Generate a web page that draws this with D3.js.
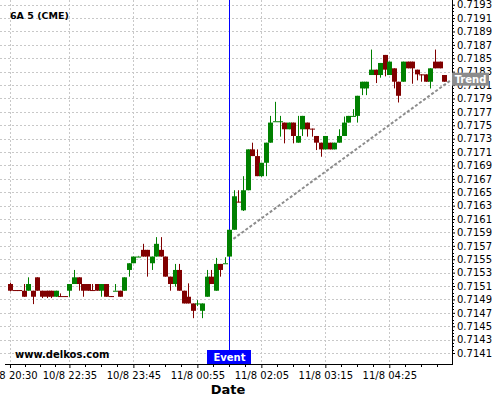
<!DOCTYPE html>
<html>
<head>
<meta charset="utf-8">
<script src="https://cdn.jsdelivr.net/npm/d3@7"></script>
<style>
  body { margin: 0; background: #fff; }
  svg { display: block; font-family: "DejaVu Sans", sans-serif; }
</style>
</head>
<body>
<script>

// Candle data (5 minute bars, index based x axis)
const openV = [
  0.71513,0.71504,0.71504,0.71503,0.71503,0.71503,0.71523,0.71503,0.71503,0.71503,
  0.71494,0.71495,0.71495,0.71503,0.71513,0.71523,0.71513,0.71513,0.71504,0.71513,
  0.71503,0.71513,0.71495,0.71503,0.71503,0.71503,0.71534,0.71544,0.71554,0.71564,
  0.71564,0.71544,0.71554,0.71564,0.71554,0.71524,0.71513,0.71534,0.71503,0.71494,
  0.71484,0.71484,0.71473,0.71494,0.71524,0.71503,0.71543,0.71544,0.71554,0.71594,
  0.71636,0.71623,0.71653,0.71714,0.71704,0.71674,0.71694,0.71724,0.71756,0.71756,
  0.71754,0.71744,0.71754,0.71724,0.71744,0.71754,0.71745,0.71734,0.71724,0.71714,
  0.71724,0.71714,0.71724,0.71734,0.71754,0.71764,0.71764,0.71805,0.71805,0.71825,
  0.71833,0.71825,0.71855,0.71825,0.71835,0.71815,0.71815,0.71845,0.71845,0.71833,
  0.71826,0.71826,0.71815,0.71845,0.71845,0.71825];
const highV = [
  0.71515,0.71504,0.71504,0.71513,0.71523,0.71503,0.71523,0.71503,0.71503,0.71503,
  0.71503,0.71499,0.71495,0.71513,0.71534,0.71523,0.71513,0.71513,0.71513,0.71513,
  0.71513,0.71513,0.71495,0.71513,0.71503,0.71523,0.71544,0.71554,0.71555,0.71573,
  0.71564,0.71554,0.71583,0.71583,0.71554,0.71524,0.71543,0.71543,0.71503,0.71514,
  0.71484,0.71489,0.71484,0.71534,0.71534,0.71552,0.71543,0.71553,0.71594,0.71653,
  0.71653,0.71674,0.71714,0.71724,0.71714,0.71694,0.71724,0.71764,0.71785,0.71764,
  0.71754,0.71754,0.71754,0.71764,0.71764,0.71754,0.71745,0.71734,0.71724,0.71734,
  0.71724,0.71724,0.71744,0.71763,0.71764,0.71774,0.71794,0.71815,0.71815,0.71863,
  0.71833,0.71843,0.71855,0.71845,0.71835,0.71815,0.71845,0.71845,0.71845,0.71833,
  0.71826,0.71826,0.71835,0.71863,0.71845,0.71825];
const lowV = [
  0.71502,0.71503,0.71503,0.71494,0.71503,0.71483,0.71503,0.71492,0.71492,0.71492,
  0.71494,0.71494,0.71494,0.71494,0.71513,0.71503,0.71494,0.71503,0.71503,0.71503,
  0.71494,0.71494,0.71494,0.71503,0.71494,0.71503,0.71524,0.71544,0.71554,0.71554,
  0.71524,0.71534,0.71554,0.71554,0.71524,0.71503,0.71509,0.71503,0.71484,0.71484,
  0.71462,0.71480,0.71462,0.71494,0.71513,0.71503,0.71524,0.71544,0.71554,0.71594,
  0.71635,0.71622,0.71653,0.71704,0.71674,0.71673,0.71674,0.71724,0.71756,0.71733,
  0.71723,0.71744,0.71723,0.71724,0.71734,0.71733,0.71733,0.71713,0.71703,0.71714,
  0.71714,0.71714,0.71724,0.71734,0.71754,0.71764,0.71754,0.71795,0.71795,0.71825,
  0.71813,0.71821,0.71823,0.71825,0.71805,0.71784,0.71815,0.71835,0.71812,0.71817,
  0.71815,0.71815,0.71805,0.71835,0.71835,0.71815];
const closeV = [
  0.71503,0.71503,0.71503,0.71494,0.71513,0.71494,0.71503,0.71494,0.71494,0.71494,
  0.71503,0.71494,0.71494,0.71513,0.71523,0.71513,0.71503,0.71503,0.71503,0.71503,
  0.71513,0.71494,0.71494,0.71503,0.71494,0.71523,0.71544,0.71554,0.71554,0.71554,
  0.71554,0.71554,0.71573,0.71554,0.71524,0.71513,0.71534,0.71503,0.71484,0.71484,
  0.71473,0.71484,0.71484,0.71524,0.71513,0.71543,0.71534,0.71544,0.71594,0.71644,
  0.71635,0.71653,0.71714,0.71704,0.71674,0.71694,0.71724,0.71754,0.71756,0.71756,
  0.71744,0.71754,0.71734,0.71734,0.71764,0.71744,0.71744,0.71724,0.71714,0.71734,
  0.71714,0.71724,0.71734,0.71754,0.71764,0.71764,0.71794,0.71815,0.71815,0.71833,
  0.71825,0.71843,0.71833,0.71845,0.71815,0.71794,0.71845,0.71835,0.71835,0.71826,
  0.71825,0.71815,0.71835,0.71835,0.71835,0.71815];

// X axis ticks (candle index) and their labels
const xTickIdx = [0, 13, 27, 41, 55, 69, 83];
const xTickLabels = ["10/8 20:30", "10/8 22:35", "10/8 23:45", "11/8 00:55",
                     "11/8 02:05", "11/8 03:15", "11/8 04:25"];

// Y axis tick values
const yTicks = d3.range(0, 27).map(k => +(0.7141 + k * 0.0002).toFixed(4));

// Event and trend
const eventIdx = 48;
const eventLabel = "Event";
const trendPts = [[48, 0.71576], [96.6, 0.71818]];
const trendLabel = "Trend";

const title = "6A 5 (CME)";
const site = "www.delkos.com";
const xTitle = "Date";

// Layout
const width = 500, height = 400;
const plotLeft = 5, plotRight = 452, plotTop = 0, plotBottom = 364;

const x = d3.scaleLinear().domain([-1.094, 96.718]).range([plotLeft, plotRight]);
const y = d3.scaleLinear().domain([0.713936, 0.719370]).range([plotBottom, plotTop]);

const svg = d3.select("body").append("svg")
    .attr("width", width)
    .attr("height", height);

svg.append("rect").attr("width", width).attr("height", height).attr("fill", "#fff");

// Grid lines
const grid = svg.append("g").attr("stroke", "#c8c8c8").attr("stroke-dasharray", "2,2");
grid.selectAll(".gy").data(yTicks).enter().append("line")
    .attr("x1", 0).attr("x2", plotRight)
    .attr("y1", d => Math.round(y(d)) + 0.5).attr("y2", d => Math.round(y(d)) + 0.5);
grid.selectAll(".gx").data(xTickIdx).enter().append("line")
    .attr("y1", plotTop).attr("y2", plotBottom)
    .attr("x1", d => Math.round(x(d)) + 0.5).attr("x2", d => Math.round(x(d)) + 0.5);

// Trend line
const line = d3.line().x(d => x(d[0])).y(d => y(d[1]));
svg.append("path")
    .attr("d", line(trendPts))
    .attr("fill", "none")
    .attr("stroke", "#8c8c8c")
    .attr("stroke-width", 2)
    .attr("stroke-dasharray", "3,2");

// Event line
const ex = Math.round(x(eventIdx)) + 0.5;
svg.append("line")
    .attr("x1", ex).attr("x2", ex)
    .attr("y1", plotTop).attr("y2", 350)
    .attr("stroke", "#0000ff");

// Candles
const candles = d3.range(openV.length).map(i => ({
  i: i, o: openV[i], h: highV[i], l: lowV[i], c: closeV[i]
}));
const colorOf = d => d.c >= d.o ? "#008000" : "#800000";
const cg = svg.append("g");
cg.selectAll(".wick").data(candles).enter().append("line")
    .attr("x1", d => Math.round(x(d.i)) + 0.5)
    .attr("x2", d => Math.round(x(d.i)) + 0.5)
    .attr("y1", d => y(d.h))
    .attr("y2", d => y(d.l))
    .attr("stroke", colorOf);
cg.selectAll(".body").data(candles).enter().append("rect")
    .attr("x", d => Math.round(x(d.i)) - 2)
    .attr("width", 5)
    .attr("y", d => Math.min(y(d.o), y(d.c)))
    .attr("height", d => Math.max(1, Math.abs(y(d.o) - y(d.c))))
    .attr("fill", colorOf);

// X axis
const xAxis = d3.axisBottom(x)
    .tickValues(xTickIdx)
    .tickFormat((d, k) => xTickLabels[k])
    .tickSizeInner(4).tickSizeOuter(0).tickPadding(4);
const xg = svg.append("g")
    .attr("transform", `translate(0,${plotBottom})`)
    .call(xAxis);
xg.select(".domain").remove();
xg.selectAll("text").attr("font-size", 10).attr("font-family", "DejaVu Sans").attr("fill", "#000");
xg.append("line").attr("x1", plotLeft).attr("x2", plotRight + 1)
    .attr("y1", 0.5).attr("y2", 0.5).attr("stroke", "#000");
// x minor ticks
const xMinor = [];
for (let k = 0; k < xTickIdx.length; k++) {
  const a = xTickIdx[k];
  const b = k + 1 < xTickIdx.length ? xTickIdx[k + 1] : a + 14;
  for (let q = 1; q < 4; q++) xMinor.push(a + (b - a) * q / 4);
}
xg.selectAll(".mx").data(xMinor).enter().append("line")
    .attr("x1", d => Math.round(x(d)) + 0.5).attr("x2", d => Math.round(x(d)) + 0.5)
    .attr("y1", 0).attr("y2", 3).attr("stroke", "#000");

// Y axis (right)
const yAxis = d3.axisRight(y)
    .tickValues(yTicks)
    .tickFormat(d3.format(".4f"))
    .tickSizeInner(3).tickSizeOuter(0).tickPadding(2);
const yg = svg.append("g")
    .attr("transform", `translate(${plotRight},0)`)
    .call(yAxis);
yg.select(".domain").remove();
yg.selectAll("text").attr("font-size", 10).attr("font-family", "DejaVu Sans").attr("fill", "#000");
yg.append("line").attr("x1", 0.5).attr("x2", 0.5)
    .attr("y1", 0).attr("y2", plotBottom + 1).attr("stroke", "#000");
const yMinor = d3.range(0, 26 * 4).filter(k => k % 4 !== 0).map(k => 0.7141 + k * 0.00005);
yg.selectAll(".my").data(yMinor).enter().append("line")
    .attr("x1", 0).attr("x2", 2)
    .attr("y1", d => Math.round(y(d)) + 0.5).attr("y2", d => Math.round(y(d)) + 0.5)
    .attr("stroke", "#000");

// Axis title
svg.append("text")
    .attr("x", 228).attr("y", 394)
    .attr("text-anchor", "middle")
    .attr("font-size", 13).attr("font-weight", "bold")
    .text(xTitle);

// Event label
svg.append("rect")
    .attr("x", ex - 22.5).attr("y", 350).attr("width", 44).attr("height", 14)
    .attr("fill", "#0000ff");
svg.append("text")
    .attr("x", ex).attr("y", 361)
    .attr("text-anchor", "middle")
    .attr("font-size", 10).attr("font-weight", "bold").attr("fill", "#fff")
    .text(eventLabel);

// Trend label
const ty = y(trendPts[1][1]);
svg.append("rect")
    .attr("x", 452).attr("y", ty - 7).attr("width", 37).attr("height", 13)
    .attr("fill", "#8c8c8c");
svg.append("text")
    .attr("x", 470.5).attr("y", ty + 3.5)
    .attr("text-anchor", "middle")
    .attr("font-size", 10).attr("font-weight", "bold").attr("fill", "#fff")
    .text(trendLabel);

// Title and watermark
svg.append("text")
    .attr("x", 10).attr("y", 18.5)
    .attr("font-size", 9.5).attr("font-weight", "bold")
    .text(title);
svg.append("text")
    .attr("x", 15).attr("y", 357.5)
    .attr("font-size", 10).attr("font-weight", "bold")
    .text(site);

</script>
</body>
</html>
